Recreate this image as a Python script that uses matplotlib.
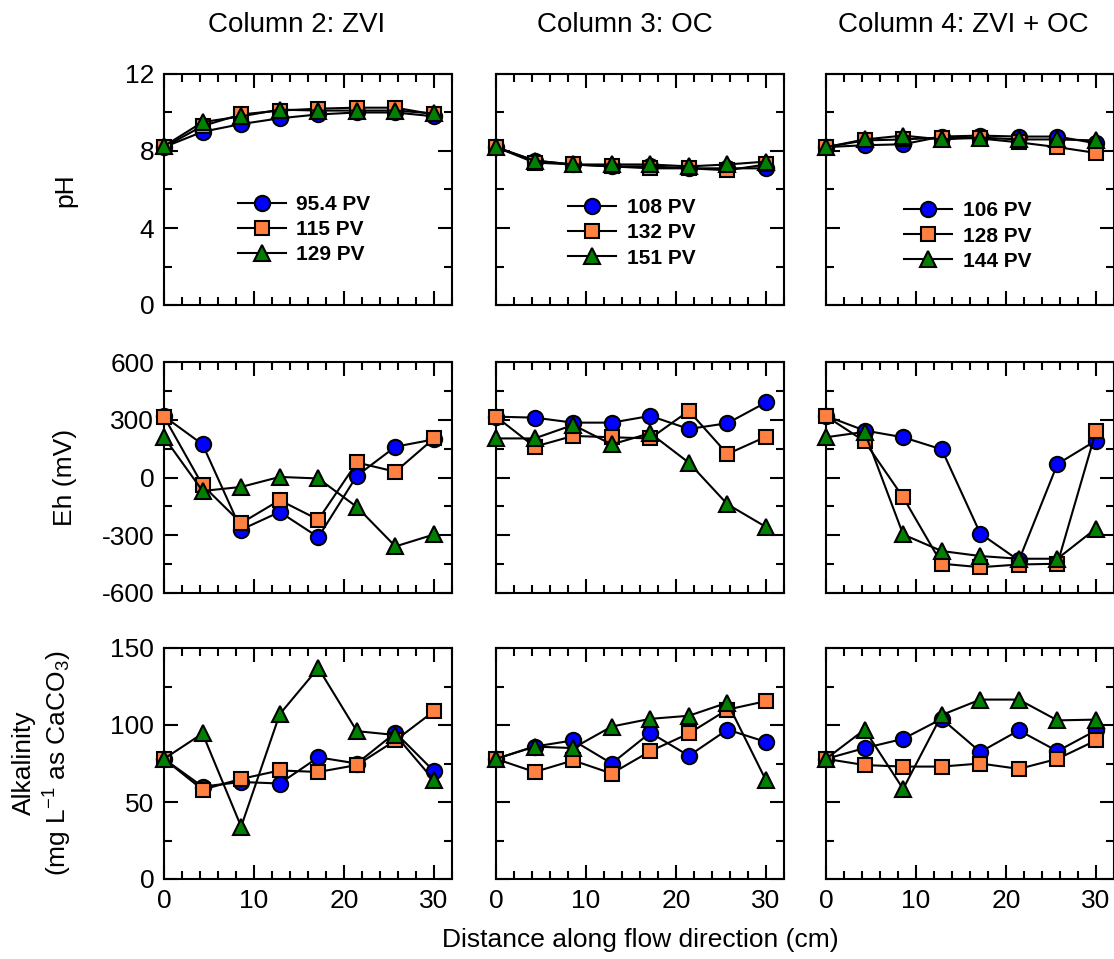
import numpy as np
import matplotlib
matplotlib.use("Agg")
import matplotlib.pyplot as plt
from matplotlib.ticker import MultipleLocator

plt.rcParams['font.family'] = ['Liberation Sans', 'DejaVu Sans']
plt.rcParams['axes.unicode_minus'] = False
plt.rcParams['mathtext.default'] = 'regular'

# distance along column (cm), 8 sampling ports
distance = np.linspace(0, 30, 8)

columns = ["Column 2: ZVI", "Column 3: OC", "Column 4: ZVI + OC"]
pv_labels = [["95.4 PV", "115 PV", "129 PV"],
             ["108 PV", "132 PV", "151 PV"],
             ["106 PV", "128 PV", "144 PV"]]

# pH
ph_zvi = [[8.2, 9.0, 9.4, 9.7, 9.9, 10.0, 10.0, 9.8],
          [8.2, 9.3, 9.9, 10.1, 10.2, 10.25, 10.25, 9.9],
          [8.25, 9.5, 9.8, 10.15, 10.1, 10.1, 10.1, 9.95]]
ph_oc = [[8.2, 7.5, 7.3, 7.2, 7.2, 7.1, 7.1, 7.1],
         [8.2, 7.4, 7.3, 7.2, 7.1, 7.1, 7.0, 7.3],
         [8.2, 7.5, 7.3, 7.3, 7.3, 7.2, 7.3, 7.45]]
ph_mix = [[8.2, 8.3, 8.35, 8.75, 8.8, 8.75, 8.75, 8.4],
          [8.2, 8.55, 8.6, 8.7, 8.65, 8.45, 8.2, 7.9],
          [8.2, 8.6, 8.8, 8.6, 8.7, 8.6, 8.6, 8.55]]

# Eh (mV)
eh_zvi = [[318, 172, -271, -179, -310, 9, 160, 198],
          [316, -40, -237, -118, -219, 78, 30, 203],
          [209, -70, -49, 3, -5, -153, -358, -296]]
eh_oc = [[316, 311, 285, 285, 320, 252, 282, 390],
         [316, 160, 216, 209, 203, 346, 122, 212],
         [203, 203, 273, 172, 230, 77, -139, -257]]
eh_mix = [[320, 244, 209, 146, -291, -431, 70, 192],
          [319, 188, -103, -448, -466, -452, -448, 241],
          [209, 237, -296, -382, -408, -422, -422, -265]]

# Alkalinity (mg/L as CaCO3)
alk_zvi = [[78, 60, 63, 62, 79, 75, 95, 70],
           [78, 58, 65, 70.5, 69.5, 74, 90, 109],
           [78, 94.5, 34, 107, 137, 96, 93.5, 64]]
alk_oc = [[78, 86, 90, 75, 95, 80, 97, 89],
          [78, 69.5, 77, 68.5, 83, 94.5, 110, 115.5],
          [78, 86, 85, 99, 104, 106, 114.5, 64]]
alk_mix = [[78, 85, 91, 104, 82.5, 96.5, 83, 96.5],
           [78, 74, 73, 73, 75, 71.5, 78, 90],
           [78, 97, 58.5, 106.5, 116.5, 116.5, 103, 103.5]]

rows = [[ph_zvi, ph_oc, ph_mix],
        [eh_zvi, eh_oc, eh_mix],
        [alk_zvi, alk_oc, alk_mix]]

ylims = [(0, 12), (-600, 600), (0, 150)]
ymajor = [4, 300, 50]
yminor = [2, 150, 25]

markers = ['o', 's', '^']
msizes = [11, 9.5, 11.5]
colors = ['#0000ff', '#ff8040', '#008000']

W, H = 1114, 959
fig = plt.figure(figsize=(W / 100, H / 100), dpi=100)

lefts = [164, 496, 826]
tops = [74, 362, 648]
aw, ah = 288, 231

legend_pos = [(0.257, 0.477), (0.251, 0.463), (0.272, 0.449)]
title_x = [297, 625, 963]

for r in range(3):
    for c in range(3):
        ax = fig.add_axes([lefts[c] / W, 1 - (tops[r] + ah) / H, aw / W, ah / H])
        for k in range(3):
            ax.plot(distance, rows[r][c][k], color='black', lw=1.5,
                    marker=markers[k], ms=msizes[k], mfc=colors[k], mec='black',
                    mew=1.5, clip_on=False, zorder=3 + k, label=pv_labels[c][k])
        ax.set_xlim(0, 32)
        ax.set_ylim(*ylims[r])
        ax.xaxis.set_major_locator(MultipleLocator(10))
        ax.xaxis.set_minor_locator(MultipleLocator(2))
        ax.yaxis.set_major_locator(MultipleLocator(ymajor[r]))
        ax.yaxis.set_minor_locator(MultipleLocator(yminor[r]))
        ax.tick_params(which='both', direction='in', top=True, right=True, width=1.5)
        ax.tick_params(which='major', length=10, labelsize=19, pad=7)
        ax.tick_params(which='minor', length=6)
        for s in ax.spines.values():
            s.set_linewidth(1.5)
        if r < 2:
            ax.tick_params(labelbottom=False)
        if c > 0:
            ax.tick_params(labelleft=False)
        if r == 0:
            fig.text(title_x[c] / W, 1 - 25 / H, columns[c], ha='center', va='center',
                     fontsize=20)
            ax.legend(loc='upper left', bbox_to_anchor=legend_pos[c], frameon=False,
                      prop={'weight': 'bold', 'size': 15}, handlelength=2.3,
                      labelspacing=0.3, handletextpad=0.5, borderpad=0,
                      borderaxespad=0)

fig.text(65 / W, 1 - 190 / H, "pH", rotation=90, ha='center', va='center', fontsize=19)
fig.text(65 / W, 1 - 477 / H, "Eh (mV)", rotation=90, ha='center', va='center', fontsize=19)
fig.text(43 / W, 1 - 763 / H, "Alkalinity\n(mg L$^{-1}$ as CaCO$_3$)", rotation=90,
         ha='center', va='center', fontsize=19, linespacing=1.25)
fig.text(640 / W, 1 - 940 / H, "Distance along flow direction (cm)",
         ha='center', va='center', fontsize=19)

fig.savefig("out.png", dpi=100)
